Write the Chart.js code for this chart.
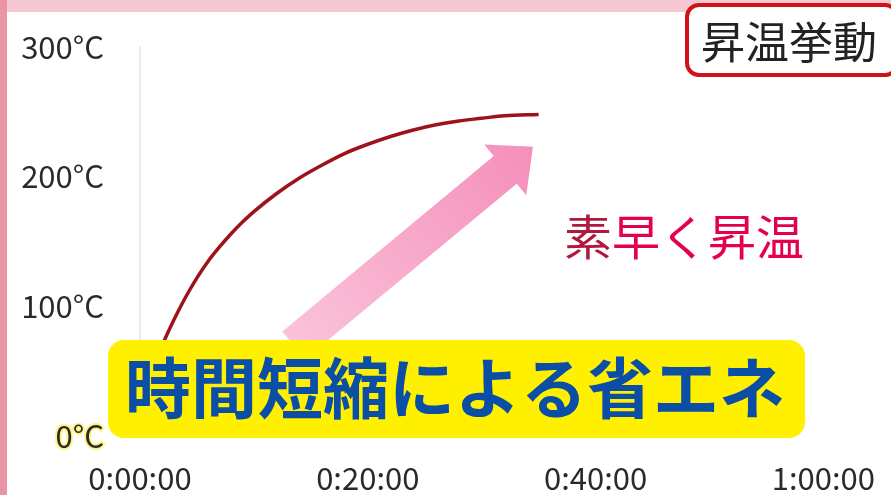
<!DOCTYPE html>
<html>
<head>
<meta charset="utf-8">
<script src="https://cdn.jsdelivr.net/npm/chart.js@4/dist/chart.umd.min.js"></script>
<style>
  html, body { margin: 0; padding: 0; background: #fff; }
  #heatChart { display: block; }
</style>
</head>
<body>
<canvas id="heatChart" width="891" height="495"></canvas>
<script>
// Heating curve (time in minutes, temperature in °C)
const timeMin = [0, 1, 2, 3, 4, 5, 6, 7, 8, 9, 10, 12, 14, 16, 18, 20, 22, 24, 26, 28, 30, 32, 35];
const tempC = [28, 50, 71, 90, 107, 122, 135, 146, 156, 165, 173, 187, 199, 209, 218, 225, 231, 236, 240, 243, 245, 247, 248];

const xTickValues = [0, 20, 40, 60];
const xTickLabels = ["0:00:00", "0:20:00", "0:40:00", "1:00:00"];
const yTickValues = [0, 100, 200, 300];
const yTickLabels = ["0°C", "100°C", "200°C", "300°C"];

const FONT = "'Noto Sans CJK JP', 'Noto Sans', sans-serif";

// Annotation: arrow from (minutes, °C) to (minutes, °C)
const arrowFrom = [13.5, 70];
const arrowTo = [34.5, 223];

const overlayPlugin = {
  id: "overlay",
  beforeDraw(chart) {
    const ctx = chart.ctx;
    ctx.save();
    ctx.fillStyle = "#f6c8d4"; // pink frame
    ctx.fillRect(0, 0, chart.width, chart.height);
    ctx.fillStyle = "#ea95a3";
    ctx.fillRect(0, 0, 7, chart.height);
    ctx.fillStyle = "#ffffff";
    ctx.fillRect(7, 12, chart.width - 7, chart.height - 12);
    ctx.restore();
  },
  beforeDatasetsDraw(chart) {
    const ctx = chart.ctx;
    const xs = chart.scales.x, ys = chart.scales.y;
    const x0 = xs.getPixelForValue(arrowFrom[0]), y0 = ys.getPixelForValue(arrowFrom[1]);
    const x1 = xs.getPixelForValue(arrowTo[0]), y1 = ys.getPixelForValue(arrowTo[1]);
    const dx = x1 - x0, dy = y1 - y0;
    const len = Math.hypot(dx, dy);
    const ux = dx / len, uy = dy / len;
    const nx = -uy, ny = ux;
    const shaftW = 18, headW = 33, headL = 36;
    const bx = x1 - ux * headL, by = y1 - uy * headL;
    const grad = ctx.createLinearGradient(x0, y0, x1, y1);
    grad.addColorStop(0, "#fac3da");
    grad.addColorStop(1, "#f58fbb");
    ctx.save();
    ctx.fillStyle = grad;
    ctx.beginPath();
    ctx.moveTo(x0 + nx * shaftW, y0 + ny * shaftW);
    ctx.lineTo(bx + nx * shaftW, by + ny * shaftW);
    ctx.lineTo(bx + nx * headW, by + ny * headW);
    ctx.lineTo(x1, y1);
    ctx.lineTo(bx - nx * headW, by - ny * headW);
    ctx.lineTo(bx - nx * shaftW, by - ny * shaftW);
    ctx.lineTo(x0 - nx * shaftW, y0 - ny * shaftW);
    ctx.closePath();
    ctx.fill();
    ctx.restore();
  },
  afterDatasetsDraw(chart) {
    const ctx = chart.ctx;
    ctx.save();

    // yellow banner
    ctx.fillStyle = "#fff000";
    ctx.beginPath();
    ctx.roundRect(108, 340, 697, 98, 16);
    ctx.fill();
    ctx.fillStyle = "#0b4ea6";
    ctx.font = "bold 66px " + FONT;
    ctx.textAlign = "center";
    ctx.textBaseline = "middle";
    ctx.fillText("時間短縮による省エネ", 455, 388);

    // title box
    ctx.fillStyle = "#ffffff";
    ctx.strokeStyle = "#d0121b";
    ctx.lineWidth = 4;
    ctx.beginPath();
    ctx.roundRect(687, 5, 210, 70, 12);
    ctx.fill();
    ctx.stroke();
    ctx.fillStyle = "#222222";
    ctx.font = "44px " + FONT;
    ctx.textAlign = "left";
    ctx.fillText("昇温挙動", 701, 42);

    // 素早く昇温
    ctx.font = "48px " + FONT;
    ctx.fillStyle = "#b0183f";
    ctx.fillText("素", 564, 237);
    const w = ctx.measureText("素").width;
    ctx.fillStyle = "#e5004f";
    ctx.fillText("早く昇温", 564 + w, 237);

    ctx.restore();
  },
};

const heatChart = new Chart(document.getElementById("heatChart"), {
  type: "line",
  data: {
    datasets: [
      {
        data: timeMin.map((t, i) => ({ x: t, y: tempC[i] })),
        borderColor: "#9e1219",
        borderWidth: 3.5,
        pointRadius: 0,
        cubicInterpolationMode: "monotone",
        fill: false,
      },
    ],
  },
  options: {
    responsive: false,
    animation: false,
    devicePixelRatio: 1,
    layout: { padding: { top: 47, right: 58, left: 0, bottom: 0 } },
    plugins: {
      legend: { display: false },
      tooltip: { enabled: false },
    },
    scales: {
      x: {
        type: "linear",
        min: 0,
        max: 60,
        afterBuildTicks: (scale) => {
          scale.ticks = xTickValues.map((v) => ({ value: v }));
        },
        afterFit: (scale) => {
          scale.height = 59;
        },
        grid: { display: false },
        border: { display: false },
        ticks: {
          padding: 16,
          color: "#2a2a2a",
          font: { family: FONT, size: 31 },
          callback: (v) => xTickLabels[xTickValues.indexOf(v)],
        },
      },
      y: {
        min: 0,
        max: 300,
        afterBuildTicks: (scale) => {
          scale.ticks = yTickValues.map((v) => ({ value: v }));
        },
        afterFit: (scale) => {
          scale.width = 140;
        },
        grid: { display: false },
        border: { display: true, color: "#ececec", width: 2 },
        ticks: {
          padding: 28,
          color: "#2a2a2a",
          font: { family: FONT, size: 31 },
          textStrokeColor: (c) => (c.tick && c.tick.value === 0 ? "#fff48a" : ""),
          textStrokeWidth: 4,
          callback: (v) => yTickLabels[yTickValues.indexOf(v)],
        },
      },
    },
  },
  plugins: [overlayPlugin],
});
</script>
</body>
</html>
